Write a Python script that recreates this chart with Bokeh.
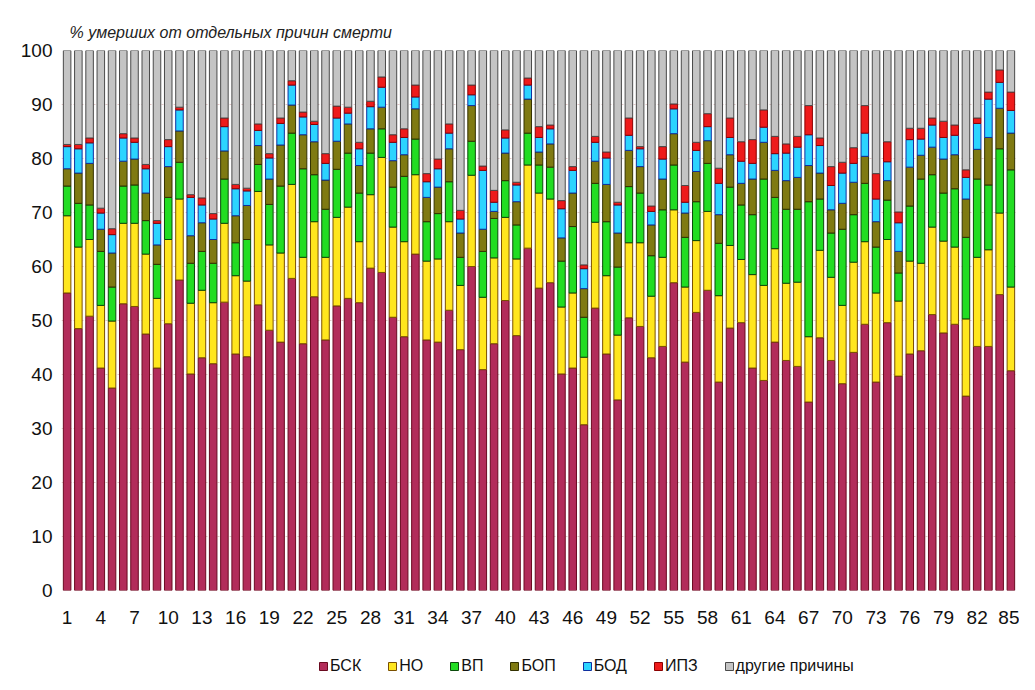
from bokeh.plotting import figure
from bokeh.layouts import column
from bokeh.models import ColumnDataSource, Range1d, FixedTicker, Legend, LegendItem
from bokeh.embed import file_html
from bokeh.resources import INLINE

regions = list(range(1, 86))
tick_labels = list(range(1, 86, 3))

bsk = [55.1, 48.5, 50.8, 41.2, 37.5, 53.1, 52.6, 47.5, 41.2, 49.4,
       57.5, 40.1, 43.1, 42.0, 53.4, 43.8, 43.3, 52.9, 48.2, 46.0,
       57.8, 45.7, 54.4, 46.4, 52.7, 54.1, 53.3, 59.7, 58.9, 50.6,
       47.0, 62.3, 46.4, 46.0, 51.9, 44.6, 60.0, 40.9, 45.7, 53.7,
       47.2, 63.4, 56.0, 57.0, 40.1, 41.2, 30.7, 52.3, 43.8, 35.3,
       50.5, 48.9, 43.1, 45.2, 57.0, 42.3, 51.5, 55.6, 38.6, 48.6,
       49.6, 41.2, 38.9, 46.0, 42.6, 41.5, 34.9, 46.8, 42.6, 38.3,
       44.1, 49.3, 38.6, 49.6, 39.7, 43.8, 44.4, 51.1, 47.7, 49.3,
       36.0, 45.2, 45.2, 54.8, 40.7]
no = [14.3, 15.1, 14.2, 11.6, 12.4, 14.9, 15.4, 14.8, 12.9, 15.6,
      15.0, 13.1, 12.5, 11.3, 14.6, 14.5, 14.0, 21.0, 15.8, 16.5,
      17.4, 16.0, 13.9, 15.3, 16.4, 16.9, 11.3, 13.6, 21.3, 16.7,
      17.6, 14.7, 14.6, 15.4, 16.4, 11.9, 16.9, 13.4, 15.9, 15.4,
      14.2, 15.4, 17.6, 15.5, 12.4, 13.9, 12.5, 15.9, 14.5, 12.0,
      13.9, 15.5, 11.4, 16.5, 13.5, 13.9, 13.3, 14.6, 16.0, 15.3,
      11.7, 17.3, 17.6, 17.3, 14.3, 15.6, 12.1, 16.2, 15.4, 14.5,
      16.7, 15.3, 16.5, 15.4, 13.9, 17.2, 16.2, 16.2, 17.0, 14.3,
      14.3, 16.5, 17.9, 15.1, 15.5]
vp = [5.5, 8.1, 6.4, 10.0, 6.3, 6.9, 7.1, 6.2, 6.3, 7.8,
      6.8, 7.4, 7.2, 7.3, 8.2, 6.1, 7.7, 5.0, 7.5, 12.4,
      9.5, 16.4, 8.7, 8.9, 8.9, 10.0, 9.0, 7.7, 5.3, 7.4,
      12.1, 6.6, 7.3, 8.4, 7.4, 5.2, 6.3, 8.5, 7.3, 6.8,
      6.3, 5.9, 5.2, 5.9, 8.5, 12.3, 7.4, 7.2, 10.0, 12.6,
      10.4, 9.2, 7.5, 8.8, 8.3, 9.2, 7.2, 8.9, 9.7, 10.8,
      10.1, 11.1, 19.7, 9.5, 13.7, 13.5, 25.0, 9.5, 8.2, 14.1,
      8.8, 10.8, 8.5, 7.3, 5.2, 10.2, 15.6, 9.7, 8.9, 10.8,
      15.1, 14.5, 12.0, 11.9, 21.7]
bop = [3.2, 5.6, 7.7, 4.1, 6.3, 4.6, 4.8, 5.1, 3.6, 5.7,
       5.8, 5.1, 5.3, 4.4, 5.2, 5.0, 6.3, 3.5, 4.7, 7.6,
       5.2, 6.3, 6.1, 5.4, 5.2, 5.4, 5.1, 4.5, 4.0, 4.9,
       4.0, 5.6, 4.5, 4.9, 6.1, 4.5, 6.6, 4.1, 1.3, 5.1,
       4.3, 6.3, 2.4, 4.3, 4.3, 6.2, 5.3, 4.1, 6.9, 6.3,
       6.7, 4.9, 5.7, 5.7, 5.8, 4.5, 5.6, 4.2, 5.3, 6.0,
       4.0, 6.6, 6.8, 5.0, 5.3, 5.9, 6.7, 4.8, 4.3, 4.8,
       6.0, 5.0, 4.7, 3.6, 4.0, 7.2, 4.4, 5.1, 6.3, 6.3,
       7.1, 5.5, 8.8, 7.5, 6.8]
bod = [4.1, 4.5, 3.8, 3.0, 3.4, 4.3, 3.1, 4.5, 4.0, 3.7,
       3.9, 7.1, 3.3, 3.8, 4.5, 5.0, 2.7, 2.8, 3.9, 4.0,
       3.7, 3.3, 3.2, 3.1, 4.3, 2.0, 3.1, 4.1, 3.7, 3.4,
       3.2, 2.2, 2.9, 3.4, 2.9, 2.6, 2.0, 10.9, 1.7, 2.8,
       3.1, 2.6, 2.7, 2.8, 5.4, 4.2, 3.7, 3.5, 4.9, 5.2,
       2.8, 3.3, 2.5, 3.7, 4.6, 2.0, 3.9, 2.6, 5.8, 3.2,
       4.1, 2.9, 2.8, 3.1, 5.1, 5.6, 5.7, 5.1, 4.5, 5.6,
       3.5, 4.3, 4.2, 3.5, 5.3, 5.1, 3.0, 4.1, 4.0, 3.6,
       4.0, 4.8, 7.1, 4.8, 4.2]
ipz = [0.4, 0.8, 0.9, 0.9, 1.1, 0.8, 0.8, 0.8, 0.5, 1.3,
       0.5, 0.5, 1.3, 1.0, 1.6, 0.8, 0.5, 1.2, 0.8, 1.0,
       0.8, 0.9, 0.6, 1.8, 2.2, 1.1, 1.2, 1.0, 1.9, 1.4,
       1.6, 2.2, 1.5, 1.8, 1.7, 1.6, 1.8, 0.8, 2.2, 1.5,
       0.5, 1.3, 2.0, 0.7, 1.5, 0.7, 0.7, 1.1, 1.1, 0.5,
       3.2, 0.4, 1.0, 2.3, 0.9, 3.1, 1.5, 2.4, 2.8, 3.6,
       3.6, 4.4, 3.2, 3.2, 1.7, 2.0, 5.4, 1.4, 3.5, 2.0,
       2.9, 5.1, 4.7, 3.7, 2.0, 2.1, 2.0, 1.3, 3.0, 1.9,
       1.4, 1.0, 1.3, 2.3, 3.4]
other = [round(100 - sum(v), 1) for v in zip(bsk, no, vp, bop, bod, ipz)]

series = ["bsk", "no", "vp", "bop", "bod", "ipz", "other"]
names = ["БСК", "НО", "ВП", "БОП", "БОД", "ИПЗ", "другие причины"]
fills = ["#B22C5A", "#FFE61E", "#22DD22", "#7F7A12", "#2CD4FF", "#EE1B1B", "#C4C4C4"]
lines = ["#6A0A20", "#7A5000", "#0B4A0B", "#333100", "#1030A0", "#8A0000", "#4A4A4A"]

source = ColumnDataSource(dict(x=regions, bsk=bsk, no=no, vp=vp, bop=bop,
                               bod=bod, ipz=ipz, other=other))

FONT = "Liberation Sans"

p = figure(frame_width=955, frame_height=540, output_backend="svg", toolbar_location=None,
           x_range=Range1d(0.5, 85.5), y_range=Range1d(0, 100),
           min_border_left=61, min_border_right=3, min_border_top=50,
           min_border_bottom=0,
           title="% умерших  от отдельных причин смерти")

renderers = p.vbar_stack(series, x="x", width=0.67, source=source,
                         fill_color=fills, line_color=lines, line_width=1)

p.outline_line_color = None
p.background_fill_color = "white"
p.border_fill_color = "white"

p.title.text_font = FONT
p.title.text_font_style = "italic"
p.title.text_font_size = "16px"
p.title.text_color = "#222222"
p.title.offset = 8
p.title.standoff = 20

p.xgrid.grid_line_color = None
p.ygrid.grid_line_color = "#e2c8c8"
p.ygrid.grid_line_dash = "2 2"
p.ygrid.ticker = FixedTicker(ticks=list(range(0, 101, 10)))

p.yaxis.ticker = FixedTicker(ticks=list(range(0, 101, 10)))
p.xaxis.ticker = FixedTicker(ticks=tick_labels)
for ax in (p.xaxis[0], p.yaxis[0]):
    ax.axis_line_color = None
    ax.major_tick_line_color = None
    ax.minor_tick_line_color = None
    ax.major_tick_in = 0
    ax.major_tick_out = 0
    ax.major_label_text_font = FONT
    ax.major_label_text_font_size = "19px"
    ax.major_label_text_color = "#111111"
p.xaxis.major_label_standoff = 20
p.yaxis.major_label_standoff = 9

# legend strip below the chart (swatches use one hidden point per series, outside the strip's range)
leg_src = ColumnDataSource(dict(x=[-5.0], top=[0.0]))
pl = figure(width=1019, height=52, output_backend="svg", toolbar_location=None,
            x_range=Range1d(0, 1), y_range=Range1d(0, 1),
            min_border=0, min_border_left=61, min_border_right=3,
            min_border_top=0, min_border_bottom=0)
pl.axis.visible = False
pl.grid.grid_line_color = None
pl.outline_line_color = None
leg_renderers = [pl.vbar(x="x", top="top", width=0.1, source=leg_src,
                         fill_color=f, line_color=lc)
                 for f, lc in zip(fills, lines)]

legend = Legend(items=[LegendItem(label=n, renderers=[r]) for n, r in zip(names, leg_renderers)],
                orientation="horizontal", location=(257, 3))
legend.label_text_font = FONT
legend.label_text_font_size = "16px"
legend.label_text_color = "#111111"
legend.glyph_width = 10
legend.glyph_height = 10
legend.label_standoff = 2
legend.spacing = 26
legend.border_line_color = None
legend.background_fill_alpha = 0
legend.margin = 0
legend.padding = 0
pl.add_layout(legend, "center")

layout = column(p, pl, spacing=0)
open("out.html", "w").write(file_html(layout, INLINE))
